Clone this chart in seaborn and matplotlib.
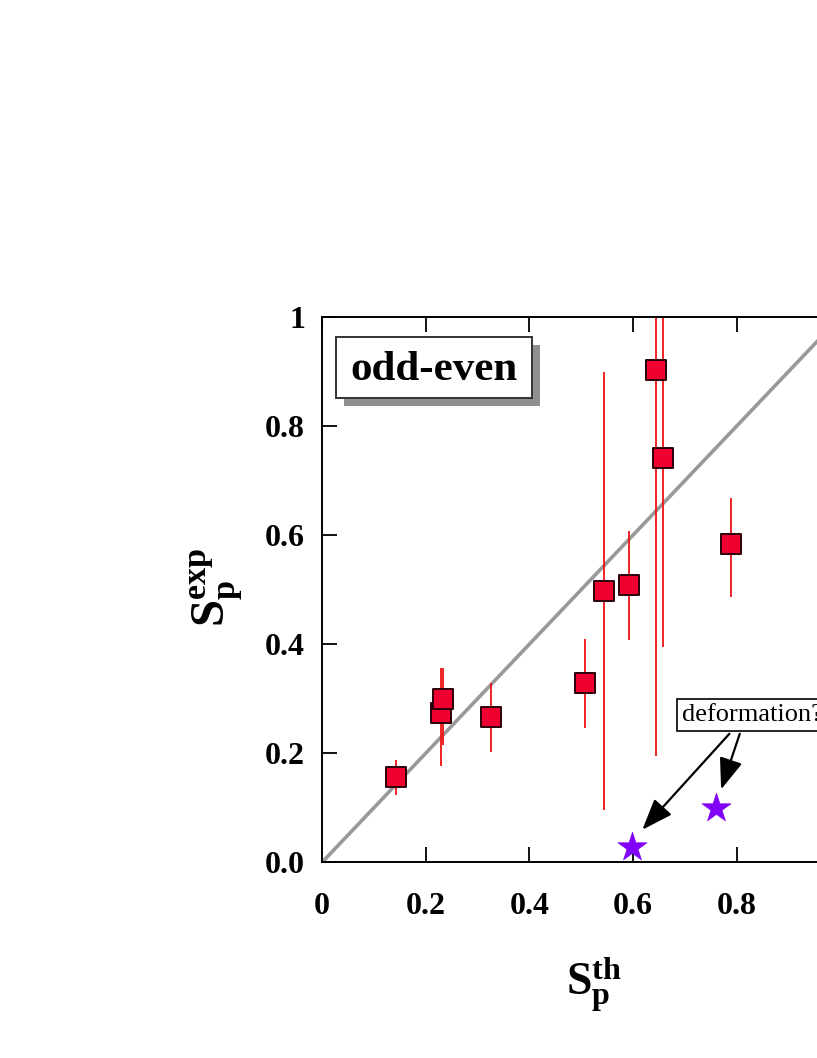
import matplotlib
matplotlib.use("Agg")
import matplotlib.pyplot as plt
import seaborn as sns
import numpy as np
import pandas as pd
from matplotlib.patches import Rectangle

# ---- data ----
s_th = [0.142, 0.229, 0.234, 0.327, 0.508, 0.544, 0.592, 0.644, 0.658, 0.790]
s_exp = [0.156, 0.274, 0.300, 0.267, 0.329, 0.498, 0.508, 0.902, 0.742, 0.583]
err_lo = [0.032, 0.098, 0.084, 0.064, 0.082, 0.402, 0.101, 0.706, 0.347, 0.096]
err_hi = [0.031, 0.083, 0.057, 0.062, 0.081, 0.402, 0.100, 0.706, 0.347, 0.086]
def_th = [0.599, 0.760]
def_exp = [0.029, 0.100]
xticks = [0, 0.2, 0.4, 0.6, 0.8, 1.0]
xticklabels = ["0", "0.2", "0.4", "0.6", "0.8", "1"]
yticks = [0.0, 0.2, 0.4, 0.6, 0.8, 1.0]
yticklabels = ["0.0", "0.2", "0.4", "0.6", "0.8", "1"]

sns.set_theme(style="white")
plt.rcParams['font.family'] = ['Liberation Serif', 'DejaVu Serif']
plt.rcParams['text.color'] = 'black'
plt.rcParams['axes.labelcolor'] = 'black'
plt.rcParams['xtick.color'] = 'black'
plt.rcParams['ytick.color'] = 'black'
plt.rcParams['mathtext.fontset'] = 'custom'
plt.rcParams['mathtext.rm'] = 'Liberation Serif'
plt.rcParams['mathtext.bf'] = 'Liberation Serif:bold'
plt.rcParams['mathtext.it'] = 'Liberation Serif:italic'

fig = plt.figure(figsize=(8.17, 10.58), dpi=100)
ax = fig.add_axes([0.394, 0.1848, 0.6346, 0.5156])

# diagonal
ax.plot([0, 1], [0, 1], color="#999999", lw=2.6, zorder=1)

# error bars
ax.errorbar(s_th, s_exp, yerr=[err_lo, err_hi], fmt="none", ecolor="#ee1111",
            elinewidth=1.3, capsize=0, zorder=2)

df = pd.DataFrame({"th": s_th, "exp": s_exp})
sns.scatterplot(data=df, x="th", y="exp", marker="s", s=200, color="#f00030",
                edgecolor="#2a0008", linewidth=1.4, ax=ax, zorder=3, legend=False)

df2 = pd.DataFrame({"th": def_th, "exp": def_exp})
sns.scatterplot(data=df2, x="th", y="exp", marker="*", s=480, color="#8000f8",
                edgecolor="#8000f8", linewidth=0.5, ax=ax, zorder=3, legend=False)

ax.set_xlim(0, 1)
ax.set_ylim(0, 1)
ax.set_xticks(xticks)
ax.set_xticklabels(xticklabels)
ax.set_yticks(yticks)
ax.set_yticklabels(yticklabels)
ax.tick_params(direction="in", top=True, right=True, bottom=True, left=True,
               length=11, width=1.3, labelsize=23, color="black", labelcolor="black")
ax.tick_params(axis="x", pad=21)
ax.tick_params(axis="y", pad=12)
for lab in ax.get_xticklabels() + ax.get_yticklabels():
    lab.set_fontweight("bold")
for sp in ax.spines.values():
    sp.set_color("black")
    sp.set_linewidth(1.4)

ax.set_xlabel(r"$\mathbf{S}_\mathbf{p}^\mathbf{th}$", fontsize=33)
ax.set_ylabel(r"$\mathbf{S}_\mathbf{p}^\mathbf{exp}$", fontsize=35)
ax.xaxis.set_label_coords(0.525, -0.17)
ax.yaxis.set_label_coords(-0.148, 0.505)

# "odd-even" box with shadow
bx0, by0, bw, bh = 0.027, 0.851, 0.378, 0.112
ax.add_patch(Rectangle((bx0 + 0.015, by0 - 0.015), bw, bh, transform=ax.transAxes,
                       facecolor="#8f8f8f", edgecolor="none", zorder=4))
ax.add_patch(Rectangle((bx0, by0), bw, bh, transform=ax.transAxes,
                       facecolor="white", edgecolor="#333333", lw=1.4, zorder=5))
ax.text(bx0 + bw / 2, by0 + bh / 2 - 0.004, "odd-even", transform=ax.transAxes,
        ha="center", va="center", fontsize=31, fontweight="bold", zorder=6)

# deformation? annotation
ax.text(0.695, 0.2705, "deformation?", fontsize=19, ha="left", va="center", zorder=6,
        bbox=dict(boxstyle="square,pad=0.2", facecolor="white", edgecolor="black", lw=1.2))
arrow_style = "-|>,head_length=1.6,head_width=0.6"
ax.annotate("", xy=(0.618, 0.060), xytext=(0.786, 0.236),
            arrowprops=dict(arrowstyle=arrow_style, color="black", lw=1.6,
                            shrinkA=0, shrinkB=0), zorder=6)
ax.annotate("", xy=(0.770, 0.134), xytext=(0.806, 0.236),
            arrowprops=dict(arrowstyle=arrow_style, color="black", lw=1.6,
                            shrinkA=0, shrinkB=0), zorder=6)

fig.savefig("out.png", dpi=100)
